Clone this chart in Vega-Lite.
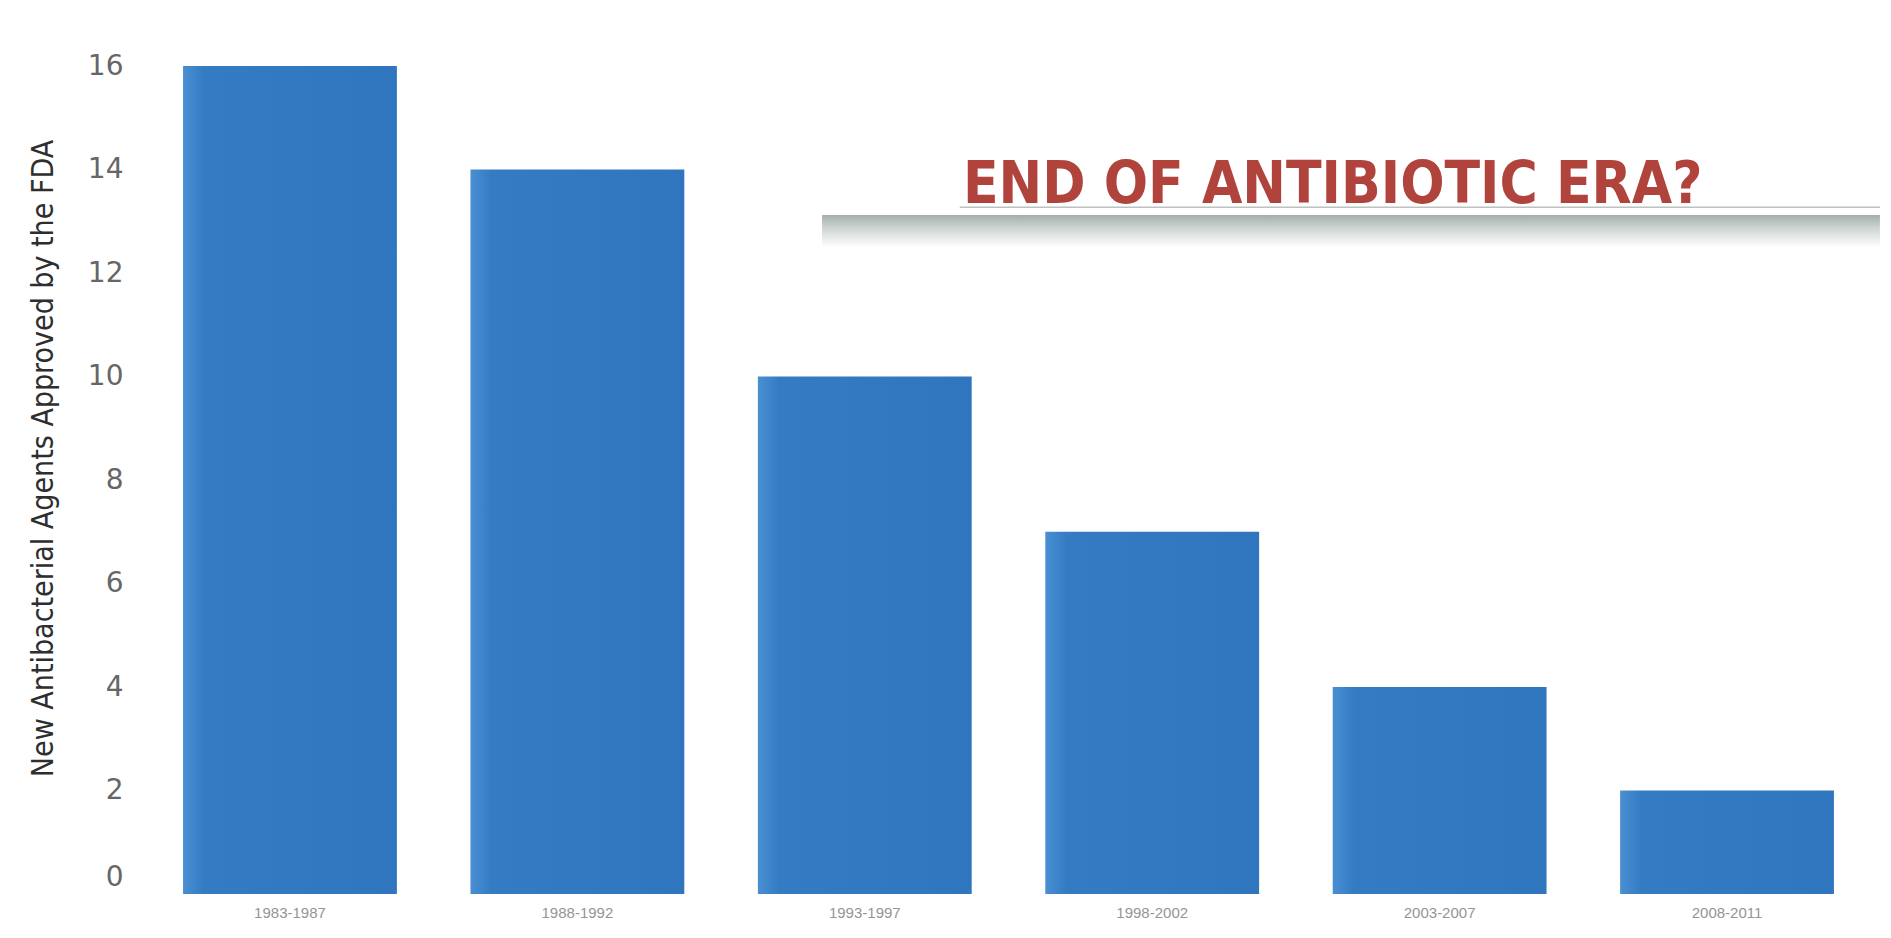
{
  "$schema": "https://vega.github.io/schema/vega-lite/v6.json",
  "autosize": "none",
  "width": 1717,
  "height": 828,
  "padding": {"left": 150, "top": 66, "right": 24, "bottom": 44},
  "background": "#ffffff",
  "config": {"view": {"stroke": null}},
  "layer": [
    {
      "data": {"values": [
        {"period": "1983-1987", "agents": 16},
        {"period": "1988-1992", "agents": 14},
        {"period": "1993-1997", "agents": 10},
        {"period": "1998-2002", "agents": 7},
        {"period": "2003-2007", "agents": 4},
        {"period": "2008-2011", "agents": 2}
      ]},
      "mark": {
        "type": "bar",
        "color": {
          "gradient": "linear",
          "x1": 0, "x2": 1, "y1": 0, "y2": 0,
          "stops": [
            {"offset": 0, "color": "#4a8fd2"},
            {"offset": 0.1, "color": "#347bc3"},
            {"offset": 1, "color": "#2f76bf"}
          ]
        }
      },
      "encoding": {
        "x": {
          "field": "period",
          "type": "nominal",
          "sort": null,
          "scale": {"paddingInner": 0.256, "paddingOuter": 0.115},
          "axis": {
            "title": null,
            "labelAngle": 0,
            "labelFont": "Liberation Sans",
            "labelFontSize": 15,
            "labelColor": "#959595",
            "labelPadding": 11,
            "domain": false,
            "ticks": false
          }
        },
        "y": {
          "field": "agents",
          "type": "quantitative",
          "scale": {"domain": [0, 16], "nice": false},
          "axis": {
            "title": "New Antibacterial Agents Approved by the FDA",
            "titleFont": "DejaVu Sans Condensed, Liberation Sans Narrow, sans-serif",
            "titleFontSize": 30,
            "titleFontWeight": "normal",
            "titleColor": "#2e2e2e",
            "titleX": -107,
            "titleY": 392,
            "titleBaseline": "middle",
            "values": [0, 2, 4, 6, 8, 10, 12, 14, 16],
            "labelFont": "DejaVu Sans",
            "labelFontSize": 28,
            "labelColor": "#666666",
            "labelPadding": 27,
            "labelOffset": {"condition": {"test": "datum.value === 0", "value": -17}, "value": 0},
            "domain": false,
            "ticks": false,
            "grid": false
          }
        }
      }
    },
    {
      "data": {"values": [{"headline": "END OF ANTIBIOTIC ERA?"}]},
      "mark": {
        "type": "rect",
        "color": {
          "gradient": "linear",
          "x1": 0, "x2": 0, "y1": 0, "y2": 1,
          "stops": [
            {"offset": 0, "color": "#a3afab"},
            {"offset": 0.4, "color": "#cdd4d1"},
            {"offset": 1, "color": "#ffffff"}
          ]
        }
      },
      "encoding": {
        "x": {"datum": "1993-1997", "bandPosition": 0.3},
        "x2": {"datum": "2008-2011", "bandPosition": 1.215},
        "y": {"datum": 13.12},
        "y2": {"datum": 12.5}
      }
    },
    {
      "data": {"values": [{"headline": "END OF ANTIBIOTIC ERA?"}]},
      "mark": {"type": "rule", "color": "#bcc2c0", "strokeWidth": 1.5},
      "encoding": {
        "x": {"datum": "1998-2002", "bandPosition": -0.4},
        "x2": {"datum": "2008-2011", "bandPosition": 1.215},
        "y": {"datum": 13.27}
      }
    },
    {
      "data": {"values": [{"headline": "END OF ANTIBIOTIC ERA?"}]},
      "mark": {
        "type": "text",
        "font": "DejaVu Sans Condensed, Liberation Sans Narrow, sans-serif",
        "fontWeight": "bold",
        "fontSize": 58,
        "color": "#b0433c",
        "align": "center",
        "baseline": "alphabetic"
      },
      "encoding": {
        "x": {"datum": "2003-2007", "bandPosition": 0},
        "y": {"datum": 13.35},
        "text": {"field": "headline"}
      }
    }
  ]
}
